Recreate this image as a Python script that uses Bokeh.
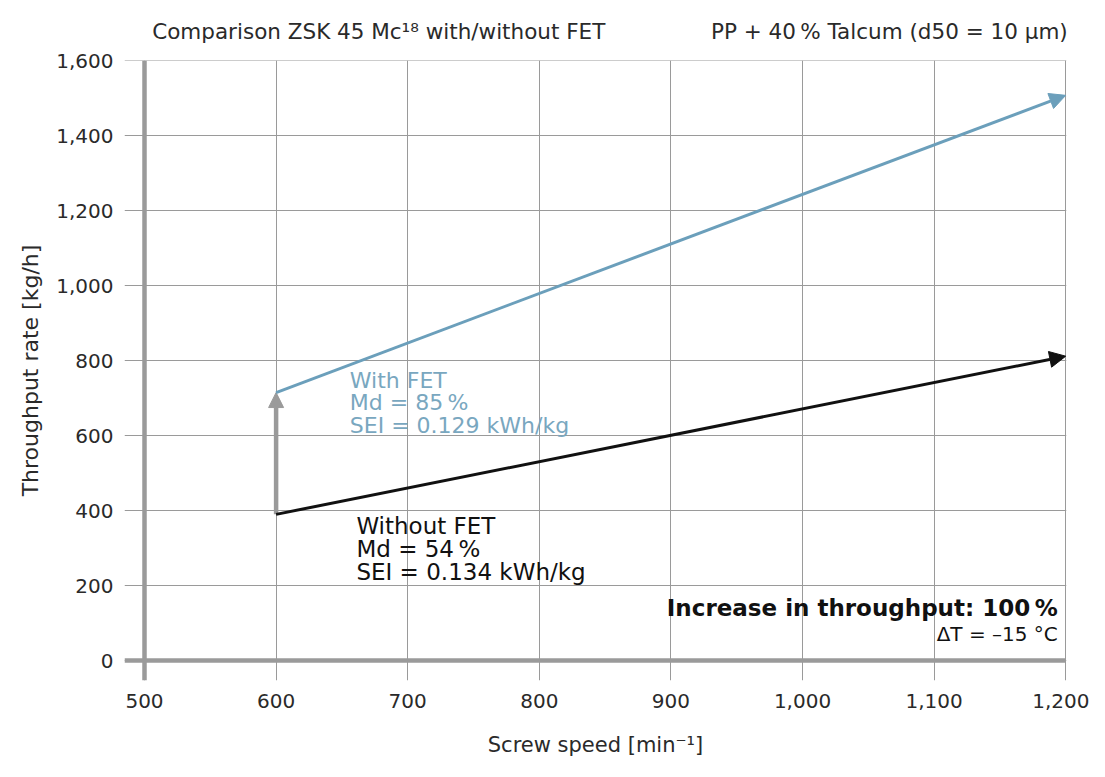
from bokeh.plotting import figure
from bokeh.models import (Range1d, NumeralTickFormatter, FixedTicker, Arrow, NormalHead,
                          Label, LinearAxis)
from bokeh.embed import file_html
from bokeh.resources import INLINE

# ---- data ----
speed = [600, 1200]
with_fet = [715, 1508]
without_fet = [390, 812]
x_ticks = [500, 600, 700, 800, 900, 1000, 1100, 1200]
y_ticks = [0, 200, 400, 600, 800, 1000, 1200, 1400, 1600]
title_left = "Comparison ZSK 45 Mc\u00b9\u2078 with/without FET"
title_right = "PP + 40\u2009% Talcum (d50 = 10 \u00b5m)"
with_lines = ["With FET", "Md = 85\u2009%", "SEI = 0.129 kWh/kg"]
without_lines = ["Without FET", "Md = 54\u2009%", "SEI = 0.134 kWh/kg"]
increase_text = "Increase in throughput: 100\u2009%"
delta_text = "\u0394T = \u201315 \u00b0C"

FONT = "DejaVu Sans"
BLUE = "#6b9fbb"
BLUE_TXT = "#79a7bf"
GREY = "#9a9a9a"
DARK = "#2a2a2a"

X0, X1 = 484.8, 1200.6
Y0, Y1 = -53.3, 1601

p = figure(width=1089, height=761, output_backend="svg", toolbar_location=None,
           x_range=Range1d(X0, X1), y_range=Range1d(Y0, Y1),
           min_border_left=124, min_border_right=23, min_border_top=60, min_border_bottom=81)
p.outline_line_color = None

for ax in (p.xaxis[0], p.yaxis[0]):
    ax.axis_line_color = None
    ax.major_tick_line_color = None
    ax.minor_tick_line_color = None
    ax.major_label_text_font = FONT
    ax.major_label_text_font_size = "20px"
    ax.major_label_text_color = DARK
    ax.axis_label_text_font = FONT
    ax.axis_label_text_font_style = "normal"
    ax.axis_label_text_color = DARK

p.xaxis.axis_label_text_font_size = "21px"
p.yaxis.axis_label_text_font_size = "22px"
p.xaxis.ticker = FixedTicker(ticks=x_ticks)
p.yaxis.ticker = FixedTicker(ticks=y_ticks)
p.xaxis.formatter = NumeralTickFormatter(format="0,0")
p.yaxis.formatter = NumeralTickFormatter(format="0,0")
p.xaxis.major_label_standoff = 7
p.yaxis.major_label_standoff = 5
p.xaxis.axis_label = "Screw speed [min\u207b\u00b9]"
p.yaxis.axis_label = "Throughput rate [kg/h]"
p.xaxis.axis_label_standoff = 22
p.yaxis.axis_label_standoff = 10

# header texts, carried by an extra axis above the frame
left_c = 678
right_c = 1066
head = LinearAxis(ticker=FixedTicker(ticks=[left_c, right_c]),
                  major_label_overrides={left_c: title_left, right_c: title_right})
head.axis_line_color = None
head.major_tick_line_color = None
head.minor_tick_line_color = None
head.major_label_text_font = FONT
head.major_label_text_font_size = "21.5px"
head.major_label_text_color = DARK
head.major_label_standoff = 11
p.add_layout(head, "above")

p.xgrid.grid_line_color = GREY
p.ygrid.grid_line_color = GREY
p.xgrid.grid_line_width = 1
p.ygrid.grid_line_width = 1

# thick axis lines
p.segment(x0=[x_ticks[0]], y0=[Y0], x1=[x_ticks[0]], y1=[y_ticks[-1]], line_color=GREY, line_width=4.5)
p.segment(x0=[X0], y0=[y_ticks[0]], x1=[x_ticks[-1]], y1=[y_ticks[0]], line_color=GREY, line_width=4.5)

# arrows
p.add_layout(Arrow(x_start=speed[0], y_start=without_fet[0], x_end=speed[0], y_end=with_fet[0],
                   line_color=GREY, line_width=4.5,
                   end=NormalHead(size=15, fill_color=GREY, line_color=GREY, line_width=1)))
p.add_layout(Arrow(x_start=speed[0], y_start=with_fet[0], x_end=speed[1], y_end=with_fet[1],
                   line_color=BLUE, line_width=3,
                   end=NormalHead(size=16, fill_color=BLUE, line_color=BLUE, line_width=1)))
p.add_layout(Arrow(x_start=speed[0], y_start=without_fet[0], x_end=speed[1], y_end=without_fet[1],
                   line_color="#111111", line_width=3,
                   end=NormalHead(size=16, fill_color="#111111", line_color="#111111", line_width=1)))

# annotation texts
with_y = [747, 688, 627]
without_y = [360, 298, 236]
for t, yy in zip(with_lines, with_y):
    p.add_layout(Label(x=656, y=yy, text=t, text_font=FONT, text_font_size="22px",
                       text_color=BLUE_TXT, text_baseline="middle"))
for t, yy in zip(without_lines, without_y):
    p.add_layout(Label(x=661, y=yy, text=t, text_font=FONT, text_font_size="23px",
                       text_color="#111111", text_baseline="middle"))
p.add_layout(Label(x=1194, y=139, text=increase_text, text_font=FONT, text_font_size="23px",
                   text_font_style="bold", text_color="#111111", text_align="right", text_baseline="middle"))
p.add_layout(Label(x=1194, y=72, text=delta_text, text_font=FONT, text_font_size="20px",
                   text_color="#111111", text_align="right", text_baseline="middle"))

open("out.html", "w").write(file_html(p, INLINE))
